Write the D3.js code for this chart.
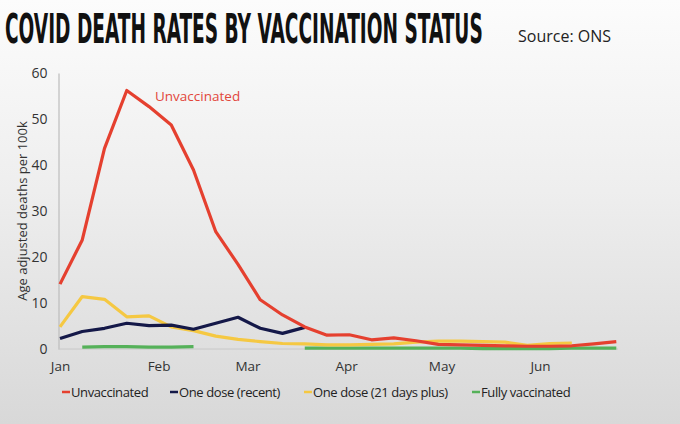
<!DOCTYPE html>
<html>
<head>
<meta charset="utf-8">
<script src="https://cdn.jsdelivr.net/npm/d3@7"></script>
<style>
  body { margin: 0; }
  svg { display: block; }
  .tick text { font-family: "Open Sans", sans-serif; fill: #333; }
</style>
</head>
<body>
<div id="chart"></div>
<script>
// weekly points, ONS age adjusted deaths per 100k
let weeks = ["2021-01-01", "2021-01-08", "2021-01-15", "2021-01-22", "2021-01-29",
  "2021-02-05", "2021-02-12", "2021-02-19", "2021-02-26", "2021-03-05",
  "2021-03-12", "2021-03-19", "2021-03-26", "2021-04-02", "2021-04-09",
  "2021-04-16", "2021-04-23", "2021-04-30", "2021-05-07", "2021-05-14",
  "2021-05-21", "2021-05-28", "2021-06-04", "2021-06-11", "2021-06-18", "2021-06-25"];

let unvaccinated = [14.1, 23.7, 43.6, 56.2, 52.7, 48.7, 38.9, 25.5, 18.4, 10.7,
  7.4, 4.8, 3.0, 3.1, 2.0, 2.4, 1.8, 1.0, 0.9, 0.8, 0.7, 0.6, 0.6, 0.7, 1.1, 1.6];
let oneDoseRecent = [2.3, 3.8, 4.5, 5.6, 5.1, 5.2, 4.3, 5.6, 6.9, 4.5, 3.4, 4.7];
let oneDose21 = [4.8, 11.4, 10.8, 7.0, 7.2, 4.8, 4.0, 2.8, 2.1, 1.6, 1.2, 1.1,
  0.9, 0.9, 1.0, 1.1, 1.5, 1.7, 1.7, 1.6, 1.5, 0.8, 1.2, 1.3];
let fullyVaccinated = [null, 0.4, 0.5, 0.5, 0.4, 0.4, 0.5, null, null, null, null, 0.2,
  0.2, 0.2, 0.2, 0.2, 0.2, 0.2, 0.2, 0.1, 0.1, 0.1, 0.1, 0.2, 0.2, 0.2];

let seriesNames = ["Unvaccinated", "One dose (recent)", "One dose (21 days plus)", "Fully vaccinated"];
let seriesColors = ["#e5402f", "#141848", "#f5c842", "#55b159"];
let yTicks = [0, 10, 20, 30, 40, 50, 60];

let width = 680;
let height = 424;
let parseDate = d3.timeParse("%Y-%m-%d");
let dates = weeks.map(parseDate);

let svg = d3.select("#chart")
  .append("svg")
  .attr("width", width)
  .attr("height", height);

// background
let defs = svg.append("defs");
let grad = defs.append("linearGradient")
  .attr("id", "bg")
  .attr("x1", 0).attr("y1", 0).attr("x2", 0).attr("y2", 1);
grad.append("stop").attr("offset", "0%").attr("stop-color", "#fcfcfc");
grad.append("stop").attr("offset", "45%").attr("stop-color", "#eeeeee");
grad.append("stop").attr("offset", "100%").attr("stop-color", "#d8d8d8");

svg.append("rect")
  .attr("width", width)
  .attr("height", height)
  .attr("fill", "url(#bg)");

// scales
let xScale = d3.scaleTime()
  .domain([parseDate("2021-01-01"), parseDate("2021-06-01")])
  .range([60, 540]);
let yScale = d3.scaleLinear()
  .domain([0, 60])
  .range([349, 73]);

// title + source (title squeezed to the condensed look)
let title = svg.append("text")
  .attr("font-family", "DejaVu Sans Condensed, DejaVu Sans")
  .attr("font-weight", "bold")
  .attr("font-size", 41)
  .attr("fill", "#111")
  .text("COVID DEATH RATES BY VACCINATION STATUS");
let titleW = title.node().getComputedTextLength();
title.attr("transform", "translate(5,43) scale(" + (478 / titleW) + ",1)");

svg.append("text")
  .attr("x", 518)
  .attr("y", 42)
  .attr("font-family", "Open Sans")
  .attr("font-size", 16)
  .attr("fill", "#222")
  .text("Source: ONS");

// axes
let yAxis = d3.axisLeft(yScale).tickValues(yTicks).tickSize(0).tickPadding(11);
let xAxis = d3.axisBottom(xScale)
  .ticks(d3.timeMonth.every(1))
  .tickFormat(d3.timeFormat("%b"))
  .tickSize(0)
  .tickPadding(12);

let yG = svg.append("g")
  .attr("class", "yAxis")
  .attr("transform", "translate(58.5,0)")
  .call(yAxis);
yG.select(".domain").attr("stroke", "#bdbdbd").attr("stroke-width", 1.2);
yG.selectAll(".tick text").attr("font-size", 14);

let xG = svg.append("g")
  .attr("class", "xAxis")
  .attr("transform", "translate(0,349)")
  .call(xAxis);
xG.select(".domain").remove();
xG.selectAll(".tick text").attr("font-size", 13.5);

svg.append("line")
  .attr("x1", 58.5).attr("x2", 618)
  .attr("y1", yScale(0)).attr("y2", yScale(0))
  .attr("stroke", "#c8c8c8")
  .attr("stroke-width", 1);

svg.append("text")
  .attr("transform", "translate(27,211)rotate(-90)")
  .attr("text-anchor", "middle")
  .attr("font-family", "Open Sans")
  .attr("font-size", 13)
  .attr("fill", "#333")
  .text("Age adjusted deaths per 100k");

// lines
let line = d3.line()
  .defined(function (d) { return d.v !== null; })
  .x(function (d) { return xScale(d.date); })
  .y(function (d) { return yScale(d.v); });

let allSeries = [unvaccinated, oneDoseRecent, oneDose21, fullyVaccinated];
let drawOrder = [3, 2, 1, 0];

drawOrder.forEach(function (i) {
  let pts = allSeries[i].map(function (v, j) {
    return { date: dates[j], v: v };
  });
  svg.append("path")
    .datum(pts)
    .attr("fill", "none")
    .attr("stroke", seriesColors[i])
    .attr("stroke-width", 3.2)
    .attr("stroke-linejoin", "round")
    .attr("stroke-linecap", "butt")
    .attr("d", line);
});

// direct label
svg.append("text")
  .attr("x", 155)
  .attr("y", 101)
  .attr("font-family", "Open Sans")
  .attr("font-size", 13.5)
  .attr("fill", "#e2473b")
  .text("Unvaccinated");

// legend
let legendX = [62, 170, 304, 472];
let legend = svg.append("g").attr("class", "legend");
seriesNames.forEach(function (name, i) {
  let g = legend.append("g").attr("transform", "translate(" + legendX[i] + ",392)");
  g.append("line")
    .attr("x1", 0).attr("x2", 8)
    .attr("y1", 0).attr("y2", 0)
    .attr("stroke", seriesColors[i])
    .attr("stroke-width", 2.5);
  g.append("text")
    .attr("x", 9)
    .attr("y", 4.5)
    .attr("font-family", "Open Sans")
    .attr("font-size", 13)
    .attr("letter-spacing", -0.4)
    .attr("fill", "#222")
    .text(name);
});
</script>
</body>
</html>
